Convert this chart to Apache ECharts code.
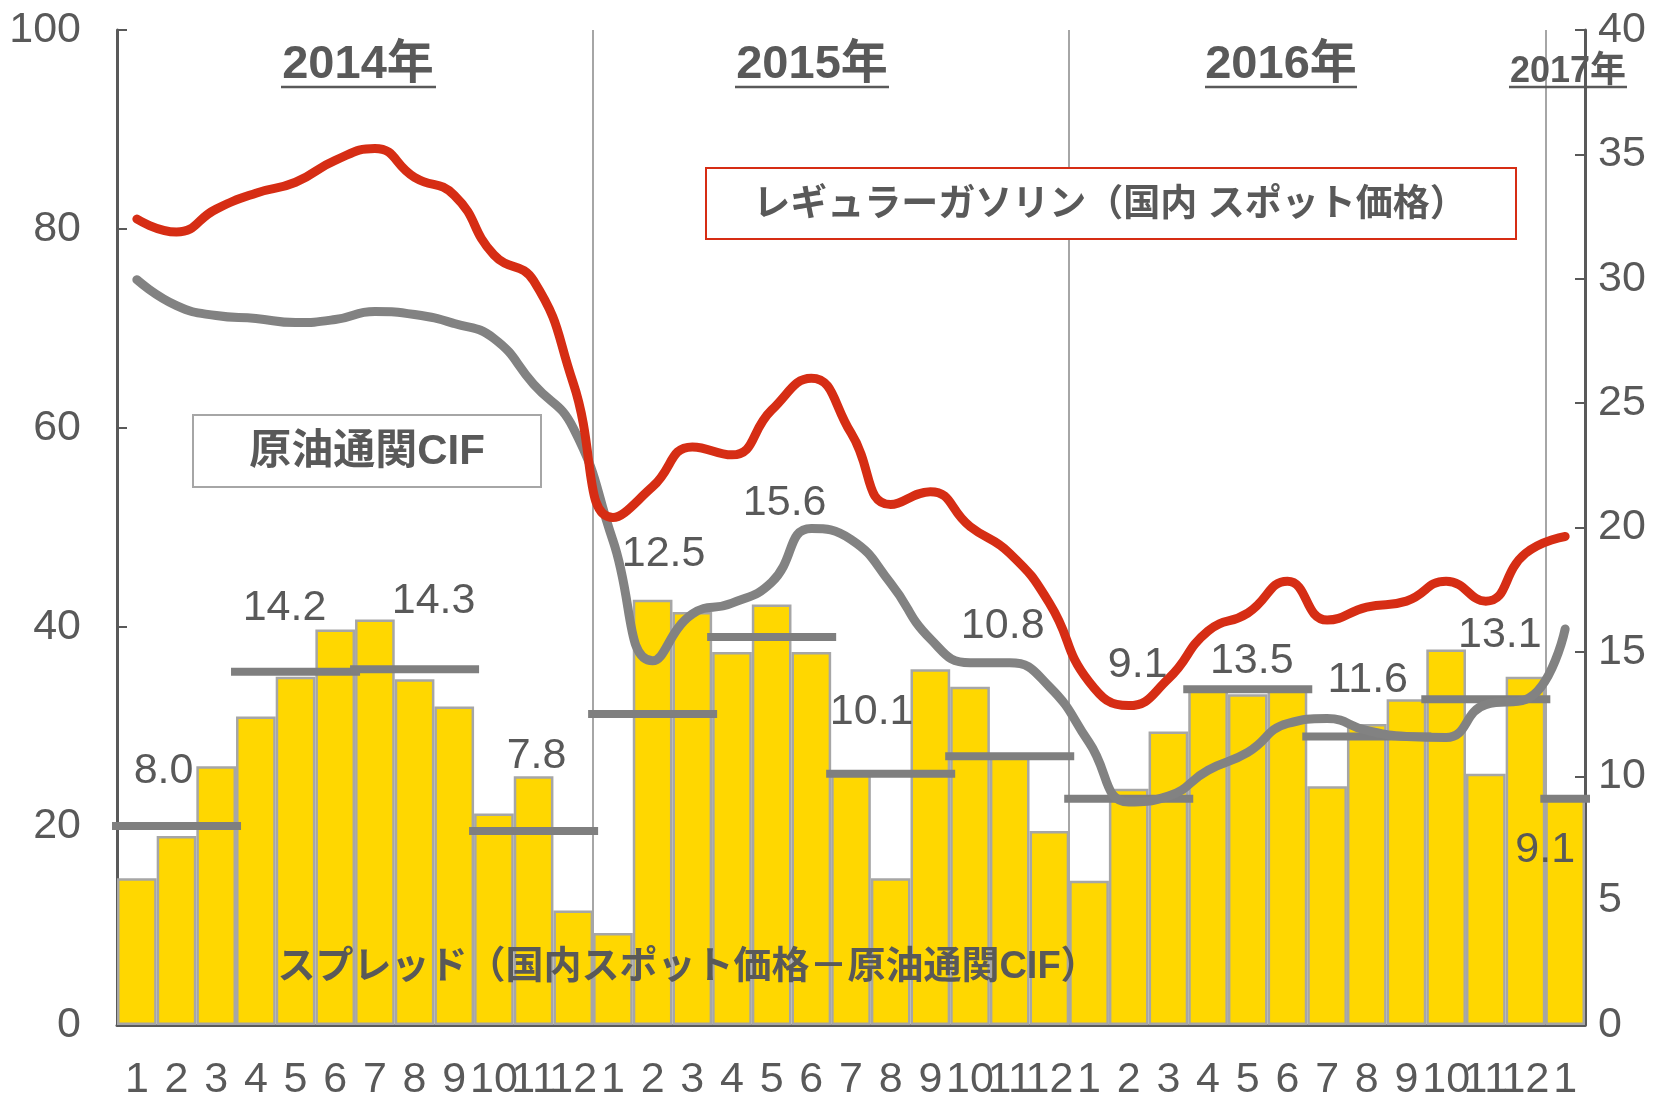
<!DOCTYPE html>
<html>
<head>
<meta charset="utf-8">
<script src="https://cdn.jsdelivr.net/npm/echarts@6/dist/echarts.min.js"></script>
<style>
    html, body { margin: 0; padding: 0; background: #fff; }
    #chart { width: 1678px; height: 1097px; }
</style>
</head>
<body>
<div id="chart"></div>
<script>
    // 月（2014年1月〜2017年1月）
    const months = ['1', '2', '3', '4', '5', '6', '7', '8', '9', '10', '11', '12',
        '1', '2', '3', '4', '5', '6', '7', '8', '9', '10', '11', '12',
        '1', '2', '3', '4', '5', '6', '7', '8', '9', '10', '11', '12',
        '1']
    // レギュラーガソリン（国内スポット価格） 左軸
    const gasoline = [81.0, 79.7, 82.0, 83.6, 84.7, 86.9, 88.1, 85.2, 83.4, 77.4, 74.8, 64.5,
        51.0, 54.1, 58.1, 57.3, 61.8, 65.0, 59.5, 52.3, 53.6, 50.1, 47.4, 42.4,
        34.5, 32.1, 34.8, 39.6, 41.4, 44.6, 40.7, 42.0, 42.6, 44.6, 42.6, 47.4,
        49.1]
    // 原油通関CIF 左軸
    const crude = [74.9, 72.3, 71.3, 71.0, 70.6, 70.9, 71.7, 71.4, 70.5, 69.0, 64.4, 60.0,
        48.7, 36.6, 41.3, 42.4, 44.5, 49.9, 48.8, 44.4, 38.8, 36.4, 36.4, 34.0,
        28.4, 22.4, 23.0, 25.6, 27.4, 30.3, 30.8, 29.6, 29.0, 28.9, 32.2, 32.7,
        39.8]
    // スプレッド（月次） 右軸
    const spread = [5.9, 7.6, 10.4, 12.4, 14.0, 15.9, 16.3, 13.9, 12.8, 8.5, 10.0, 4.6,
        3.7, 17.1, 16.6, 15.0, 16.9, 15.0, 10.1, 5.9, 14.3, 13.6, 10.9, 7.8,
        5.8, 9.5, 11.8, 13.5, 13.3, 13.6, 9.6, 12.1, 13.1, 15.1, 10.1, 14.0,
        9.1]
    // 四半期平均スプレッド（開始月・終了月のインデックス）
    const quarterStart = [0, 3, 6, 9, 12, 15, 18, 21, 24, 27, 30, 33, 36]
    const quarterEnd = [2, 5, 8, 11, 14, 17, 20, 23, 26, 29, 32, 35, 36]
    const quarterAvg = [8.0, 14.2, 14.3, 7.8, 12.5, 15.6, 10.1, 10.8, 9.1, 13.5, 11.6, 13.1, 9.1]

    // 平均ラベルの位置調整 [dx, dy]（px）
    const avgLabelShift = [[-13, -55], [-11, -64], [19, -68], [3, -75], [11, -160], [13, -134],
        [-19, -62], [-7, -130], [9, -133], [4, -28], [1, -56], [14, -64], [-20, 52]]

    const FONT = "'Liberation Sans', 'Noto Sans CJK JP', sans-serif"
    const TEXT = '#595959'
    const AXIS = '#595959'

    let myChart = echarts.init(document.getElementById('chart'))

    const axisLabelStyle = {
        fontFamily: FONT,
        fontSize: 43,
        color: TEXT
    }

    function boxText(x, y, text, size) {
        return {
            type: 'text',
            x: x,
            y: y,
            z: 10,
            style: {
                text: text,
                fontFamily: FONT,
                fontSize: size,
                fontWeight: 'bold',
                fill: TEXT,
                align: 'center',
                verticalAlign: 'middle',
                textAlign: 'center',
                textVerticalAlign: 'middle'
            }
        }
    }

    function underline(x1, x2, y) {
        return {
            type: 'line',
            z: 10,
            shape: { x1: x1, y1: y, x2: x2, y2: y },
            style: { stroke: TEXT, lineWidth: 2.5 }
        }
    }

    myChart.setOption({
        animation: false,
        grid: {
            left: 117,
            right: 93,
            top: 30,
            bottom: 72,
            containLabel: false,
            outerBoundsMode: 'none'
        },
        xAxis: {
            type: 'category',
            data: months,
            boundaryGap: true,
            axisLine: { lineStyle: { color: AXIS, width: 3 } },
            axisTick: { show: false },
            axisLabel: Object.assign({ interval: 0, margin: 34 }, axisLabelStyle),
            splitLine: {
                show: true,
                interval: function (index) {
                    return index > 0 && index % 12 === 0
                },
                lineStyle: { color: '#A6A6A6', width: 2 }
            }
        },
        yAxis: [{
                type: 'value',
                position: 'left',
                min: 0,
                max: 100,
                interval: 20,
                axisLine: { show: true, lineStyle: { color: AXIS, width: 3 } },
                axisTick: { show: true, inside: true, length: 10, lineStyle: { color: AXIS, width: 2 } },
                axisLabel: Object.assign({ margin: 36 }, axisLabelStyle),
                splitLine: { show: false }
            },
            {
                type: 'value',
                position: 'right',
                min: 0,
                max: 40,
                interval: 5,
                axisLine: { show: true, lineStyle: { color: AXIS, width: 3 } },
                axisTick: { show: true, inside: true, length: 10, lineStyle: { color: AXIS, width: 2 } },
                axisLabel: Object.assign({ margin: 13 }, axisLabelStyle),
                splitLine: { show: false }
            }
        ],
        series: [{
                name: 'スプレッド',
                type: 'bar',
                yAxisIndex: 1,
                data: spread,
                barCategoryGap: '0%',
                z: 2,
                itemStyle: {
                    color: '#FFD700',
                    borderColor: '#A6A6A6',
                    borderWidth: 2.5
                }
            },
            {
                name: '四半期平均',
                type: 'custom',
                yAxisIndex: 1,
                z: 3,
                clip: false,
                encode: { x: [0, 1], y: 2 },
                data: quarterStart.map((s, k) => [s, quarterEnd[k], quarterAvg[k]]),
                renderItem: function (params, api) {
                    const a = api.coord([api.value(0), api.value(2)])
                    const b = api.coord([api.value(1), api.value(2)])
                    const half = api.size([1, 0])[0] / 2
                    const cx = (a[0] + b[0]) / 2
                    const shift = avgLabelShift[params.dataIndex]
                    return {
                        type: 'group',
                        children: [{
                                type: 'line',
                                shape: { x1: a[0] - half - 5, y1: a[1], x2: b[0] + half + 5, y2: b[1] },
                                style: { stroke: '#7F7F7F', lineWidth: 8 }
                            },
                            {
                                type: 'text',
                                x: cx + shift[0],
                                y: a[1] + shift[1],
                                style: {
                                    text: api.value(2).toFixed(1),
                                    fontFamily: FONT,
                                    fontSize: 43,
                                    fill: TEXT,
                                    align: 'center',
                                    verticalAlign: 'middle'
                                }
                            }
                        ]
                    }
                }
            },
            {
                name: '原油通関CIF',
                type: 'line',
                yAxisIndex: 0,
                data: crude,
                smooth: 0.5,
                symbol: 'none',
                z: 4,
                lineStyle: { color: '#828282', width: 9, cap: 'round' }
            },
            {
                name: 'レギュラーガソリン',
                type: 'line',
                yAxisIndex: 0,
                data: gasoline,
                smooth: 0.5,
                symbol: 'none',
                z: 5,
                lineStyle: { color: '#D62D14', width: 9, cap: 'round' }
            }
        ],
        graphic: [
            // 凡例代わりのボックス
            {
                type: 'rect',
                z: 1,
                shape: { x: 706, y: 168, width: 810, height: 71 },
                style: { fill: '#fff', stroke: '#D62D14', lineWidth: 2 }
            },
            boxText(1110, 206, 'レギュラーガソリン（国内 スポット価格）', 37),
            {
                type: 'rect',
                z: 1,
                shape: { x: 193, y: 415, width: 348, height: 72 },
                style: { fill: '#fff', stroke: '#A6A6A6', lineWidth: 2 }
            },
            boxText(367, 452, '原油通関CIF', 42),
            boxText(688, 968, 'スプレッド（国内スポット価格－原油通関CIF）', 38),
            // 年ラベル
            boxText(358, 65, '2014年', 47),
            underline(281, 436, 87),
            boxText(812, 65, '2015年', 47),
            underline(735, 889, 87),
            boxText(1281, 65, '2016年', 47),
            underline(1205, 1357, 87),
            boxText(1568, 72, '2017年', 36),
            underline(1509, 1627, 87)
        ]
    })
</script>
</body>
</html>
